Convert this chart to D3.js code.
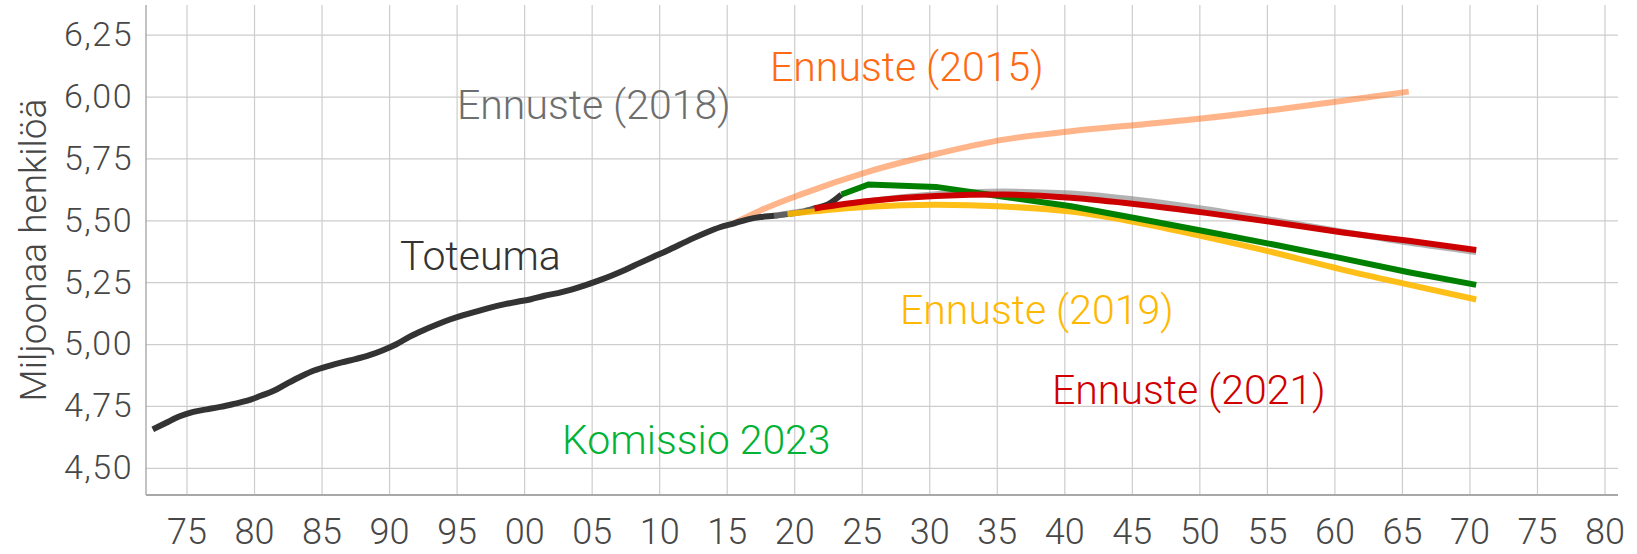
<!DOCTYPE html>
<html>
<head>
<meta charset="utf-8">
<script src="https://cdn.jsdelivr.net/npm/d3@7"></script>
<style>
	body { margin: 0; background: #fff; }
	text { font-family: Roboto, "Open Sans", sans-serif; font-weight: 300; }
</style>
</head>
<body>
<svg></svg>
<script>
// values are end-of-year figures, millions of people
var toteumaYears = [1972, 1973, 1974, 1975, 1976, 1977, 1978, 1979, 1980, 1981, 1982, 1983, 1984, 1985, 1986, 1987, 1988, 1989,
	1990, 1991, 1992, 1993, 1994, 1995, 1996, 1997, 1998, 1999, 2000, 2001, 2002, 2003, 2004, 2005, 2006, 2007, 2008, 2009,
	2010, 2011, 2012, 2013, 2014, 2015, 2016, 2017, 2018, 2019, 2020, 2021, 2022, 2023];
var toteumaValues = [4.655, 4.682, 4.708, 4.726, 4.736, 4.746, 4.758, 4.771, 4.791, 4.812, 4.842, 4.870, 4.894, 4.911, 4.926, 4.939, 4.954, 4.974,
	4.998, 5.029, 5.055, 5.078, 5.099, 5.117, 5.132, 5.147, 5.160, 5.171, 5.181, 5.195, 5.206, 5.220, 5.237, 5.256, 5.277, 5.300, 5.326, 5.351,
	5.375, 5.401, 5.427, 5.451, 5.472, 5.487, 5.503, 5.513, 5.518, 5.525, 5.533, 5.548, 5.564, 5.604];

var ennuste2015Years = [2015, 2017, 2020, 2025, 2030, 2035, 2040, 2045, 2050, 2055, 2060, 2065];
var ennuste2015Values = [5.487, 5.540, 5.605, 5.697, 5.768, 5.826, 5.860, 5.886, 5.913, 5.946, 5.982, 6.020];

var ennuste2018Years = [2018, 2020, 2025, 2030, 2035, 2040, 2045, 2050, 2055, 2060, 2065, 2070];
var ennuste2018Values = [5.518, 5.536, 5.577, 5.605, 5.616, 5.608, 5.582, 5.545, 5.500, 5.455, 5.410, 5.372];

var ennuste2019Years = [2019, 2020, 2025, 2030, 2035, 2040, 2045, 2050, 2055, 2060, 2065, 2070];
var ennuste2019Values = [5.525, 5.531, 5.555, 5.563, 5.556, 5.535, 5.490, 5.432, 5.370, 5.302, 5.240, 5.180];

var ennuste2021Years = [2021, 2025, 2030, 2035, 2040, 2045, 2050, 2055, 2060, 2065, 2070];
var ennuste2021Values = [5.548, 5.578, 5.598, 5.604, 5.591, 5.564, 5.530, 5.492, 5.452, 5.417, 5.380];

var komissioYears = [2023, 2025, 2030, 2035, 2040, 2045, 2050, 2055, 2060, 2065, 2070];
var komissioValues = [5.604, 5.645, 5.635, 5.595, 5.557, 5.506, 5.455, 5.402, 5.347, 5.290, 5.239];

var xTickYears = [1975, 1980, 1985, 1990, 1995, 2000, 2005, 2010, 2015, 2020, 2025, 2030, 2035, 2040, 2045, 2050,
	2055, 2060, 2065, 2070, 2075, 2080];
var yTickValues = [4.50, 4.75, 5.00, 5.25, 5.50, 5.75, 6.00, 6.25];

var svgWidth = 1637;
var svgHeight = 554;
var plotLeft = 146, plotRight = 1618, plotTop = 5, plotBottom = 495;

var xScale = d3.scaleLinear()
	.domain([1972, 2081])
	.range([plotLeft, plotRight]);
var yScale = d3.scaleLinear()
	.domain([4.39, 6.37])
	.range([plotBottom, plotTop]);

var svg = d3.select('svg')
	.attr('width', svgWidth)
	.attr('height', svgHeight);

var xAxis = d3.axisBottom(xScale)
	.tickValues(xTickYears)
	.tickSize(-(plotBottom - plotTop))
	.tickPadding(25)
	.tickFormat(d => d3.format('02d')(d % 100));
var yAxis = d3.axisLeft(yScale)
	.tickValues(yTickValues)
	.tickSize(-(plotRight - plotLeft))
	.tickPadding(13)
	.tickFormat(d => d3.format('.2f')(d).replace('.', ','));

var gx = svg.append('g')
	.attr('transform', `translate(0,${plotBottom})`)
	.call(xAxis);
var gy = svg.append('g')
	.attr('transform', `translate(${plotLeft},0)`)
	.call(yAxis);

[gx, gy].forEach(g => {
	g.select('.domain').remove();
	g.selectAll('.tick line').attr('stroke', '#cdcdcd').attr('stroke-width', 1.2);
	g.selectAll('.tick text').attr('fill', '#474747').style('font-family', 'Roboto, sans-serif').style('font-weight', 300);
});
gx.selectAll('.tick text').style('font-size', '36px').attr('dy', '0.68em');
gy.selectAll('.tick text').style('font-size', '34px').attr('letter-spacing', '1.5px');

// axis lines
svg.append('line')
	.attr('x1', plotLeft).attr('x2', plotLeft)
	.attr('y1', plotTop).attr('y2', plotBottom)
	.attr('stroke', '#9a9a9a').attr('stroke-width', 1.2);
svg.append('line')
	.attr('x1', plotLeft).attr('x2', plotRight)
	.attr('y1', plotBottom).attr('y2', plotBottom)
	.attr('stroke', '#a8a8a8').attr('stroke-width', 2);

svg.append('text')
	.attr('transform', `translate(46,${(plotTop + plotBottom) / 2}) rotate(-90)`)
	.attr('text-anchor', 'middle')
	.attr('fill', '#474747')
	.style('font-size', '37px')
	.text('Miljoonaa henkilöä');

function toPoints(years, values) {
	return years.map((y, i) => ({year: y, value: values[i]}));
}

// end-of-year values sit half a year to the right of the tick
var smooth = d3.line()
	.x(d => xScale(d.year + 0.5))
	.y(d => yScale(d.value))
	.curve(d3.curveMonotoneX);
var straight = d3.line()
	.x(d => xScale(d.year + 0.5))
	.y(d => yScale(d.value));

var series = [
	{pts: toPoints(ennuste2015Years, ennuste2015Values), color: '#ff6a13', opacity: 0.5, gen: smooth},
	{pts: toPoints(toteumaYears, toteumaValues), color: '#333333', opacity: 1, gen: smooth},
	{pts: toPoints(ennuste2018Years, ennuste2018Values), color: '#7f7f7f', opacity: 0.6, gen: smooth},
	{pts: toPoints(ennuste2019Years, ennuste2019Values), color: '#ffb800', opacity: 0.9, gen: smooth},
	{pts: toPoints(komissioYears, komissioValues), color: '#008000', opacity: 1, gen: straight},
	{pts: toPoints(ennuste2021Years, ennuste2021Values), color: '#cc0000', opacity: 1, gen: smooth}
];

svg.selectAll('path.serie')
	.data(series)
	.enter()
	.append('path')
	.attr('class', 'serie')
	.attr('d', d => d.gen(d.pts))
	.attr('fill', 'none')
	.attr('stroke', d => d.color)
	.attr('stroke-opacity', d => d.opacity)
	.attr('stroke-width', 6);

var labels = [
	{text: 'Ennuste (2015)', x: 770, y: 81, color: '#ff6a13'},
	{text: 'Ennuste (2018)', x: 457, y: 119, color: '#6e6e6e'},
	{text: 'Toteuma', x: 400, y: 270, color: '#333333'},
	{text: 'Ennuste (2019)', x: 900, y: 324, color: '#ffb800'},
	{text: 'Ennuste (2021)', x: 1052, y: 404, color: '#d00000'},
	{text: 'Komissio 2023', x: 562, y: 454, color: '#00b336'}
];

svg.selectAll('text.label')
	.data(labels)
	.enter()
	.append('text')
	.attr('class', 'label')
	.attr('x', d => d.x)
	.attr('y', d => d.y)
	.attr('fill', d => d.color)
	.style('font-size', '41px')
	.text(d => d.text);
</script>
</body>
</html>
